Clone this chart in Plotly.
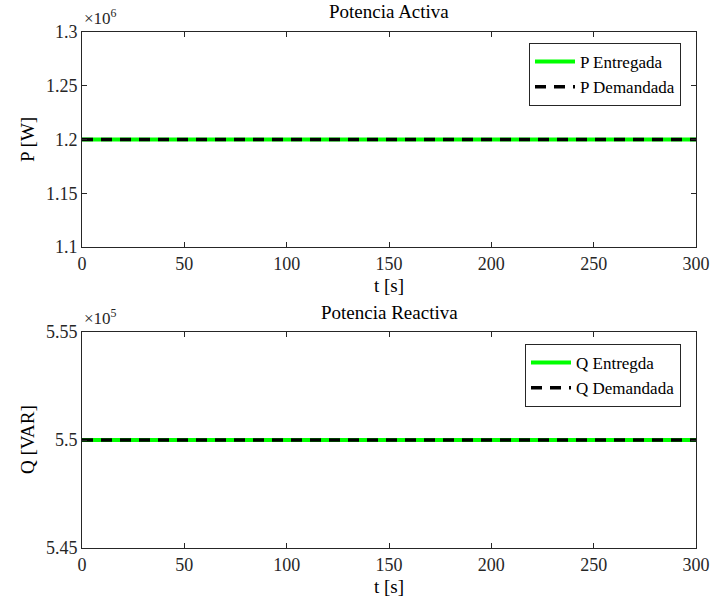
import plotly.graph_objects as go

t = [0, 300]
p_entregada = [1.2e6, 1.2e6]
p_demandada = [1.2e6, 1.2e6]
q_entregada = [5.5e5, 5.5e5]
q_demandada = [5.5e5, 5.5e5]

x_ticks = [0, 50, 100, 150, 200, 250, 300]
p_tickvals = [1.1e6, 1.15e6, 1.2e6, 1.25e6, 1.3e6]
p_ticktext = ["1.1", "1.15", "1.2", "1.25", "1.3"]
q_tickvals = [5.45e5, 5.5e5, 5.55e5]
q_ticktext = ["5.45", "5.5", "5.55"]

FONT = "Liberation Serif"
GREEN = "rgb(0,255,0)"
AX = "rgb(38,38,38)"
W, H = 712, 605

fig = go.Figure()
fig.add_trace(go.Scatter(x=t, y=p_entregada, mode="lines", name="P Entregada",
                         line=dict(color=GREEN, width=4), xaxis="x", yaxis="y", legend="legend"))
fig.add_trace(go.Scatter(x=t, y=p_demandada, mode="lines", name="P Demandada",
                         line=dict(color="black", width=3.5, dash="11px,8px"), xaxis="x", yaxis="y", legend="legend"))
fig.add_trace(go.Scatter(x=t, y=q_entregada, mode="lines", name="Q Entregda",
                         line=dict(color=GREEN, width=4), xaxis="x2", yaxis="y2", legend="legend2"))
fig.add_trace(go.Scatter(x=t, y=q_demandada, mode="lines", name="Q Demandada",
                         line=dict(color="black", width=3.5, dash="11px,8px"), xaxis="x2", yaxis="y2", legend="legend2"))

xdom = [82/W, 696/W]
top_dom = [1 - 247/H, 1 - 32/H]
bot_dom = [1 - 548/H, 1 - 332/H]
xmid = (xdom[0] + xdom[1]) / 2

axcommon = dict(showline=True, linecolor=AX, linewidth=1, mirror="ticks", ticks="inside",
                ticklen=5, tickcolor=AX, showgrid=False, zeroline=False, automargin=False,
                tickfont=dict(family=FONT, size=18, color=AX))

def ann(text, x, y, xanchor="center", yanchor="middle", size=19, angle=0, color="black"):
    return dict(text=text, x=x, y=y, xref="paper", yref="paper", xanchor=xanchor, yanchor=yanchor,
                showarrow=False, textangle=angle, font=dict(family=FONT, size=size, color=color))

fig.update_layout(
    width=W, height=H,
    margin=dict(l=0, r=0, t=0, b=0, autoexpand=False),
    paper_bgcolor="white", plot_bgcolor="white",
    font=dict(family=FONT, size=16, color="black"),
    xaxis=dict(domain=xdom, anchor="y", range=[0, 300], tickvals=x_ticks, **axcommon),
    yaxis=dict(domain=top_dom, anchor="x", range=[1.1e6, 1.3e6], tickvals=p_tickvals, ticktext=p_ticktext, **axcommon),
    xaxis2=dict(domain=xdom, anchor="y2", range=[0, 300], tickvals=x_ticks, **axcommon),
    yaxis2=dict(domain=bot_dom, anchor="x2", range=[5.45e5, 5.55e5], tickvals=q_tickvals, ticktext=q_ticktext, **axcommon),
    legend=dict(x=681/W, y=1 - 43/H, xanchor="right", yanchor="top", bgcolor="white",
                bordercolor=AX, borderwidth=1, font=dict(family=FONT, size=17),
                tracegroupgap=0, itemwidth=40),
    legend2=dict(x=681/W, y=1 - 344/H, xanchor="right", yanchor="top", bgcolor="white",
                 bordercolor=AX, borderwidth=1, font=dict(family=FONT, size=17),
                 tracegroupgap=0, itemwidth=40),
    showlegend=True,
    annotations=[
        ann("Potencia Activa", xmid, 1 - 12/H),
        ann("Potencia Reactiva", xmid, 1 - 312/H),
        ann("×10<sup>6</sup>", xdom[0], 1 - 30/H, xanchor="left", yanchor="bottom", size=17, color=AX),
        ann("×10<sup>5</sup>", xdom[0], 1 - 330/H, xanchor="left", yanchor="bottom", size=17, color=AX),
        ann("t [s]", xmid, 1 - 286/H),
        ann("t [s]", xmid, 1 - 586/H),
        ann("P [W]", 27/W, 1 - 140/H, angle=-90),
        ann("Q [VAR]", 27/W, 1 - 440/H, angle=-90),
    ],
)

fig.write_html("out.html")
